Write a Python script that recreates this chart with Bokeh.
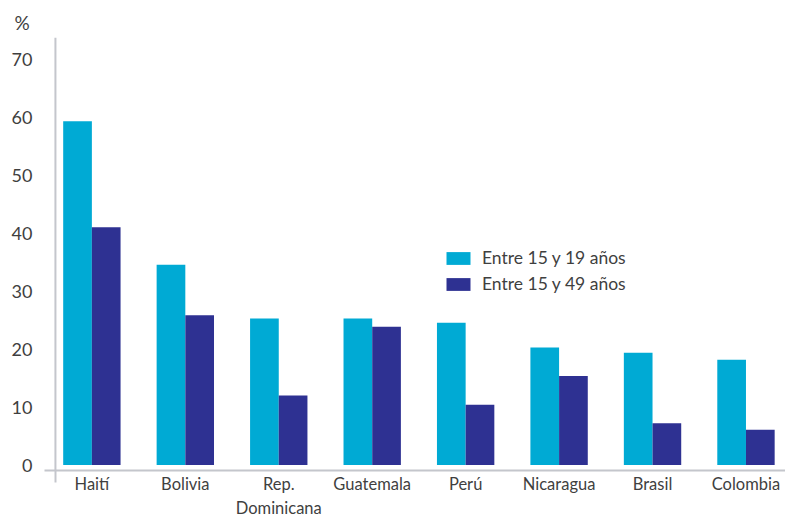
import numpy as np
from bokeh.plotting import figure
from bokeh.models import ColumnDataSource, FixedTicker, Span, Range1d, Legend, LegendItem
from bokeh.embed import file_html
from bokeh.resources import INLINE

# ---- data ----
countries = ["Haití", "Bolivia", "Rep.\nDominicana", "Guatemala", "Perú",
             "Nicaragua", "Brasil", "Colombia"]
age_15_19 = [59.4, 34.6, 25.3, 25.3, 24.6, 20.3, 19.4, 18.2]
age_15_49 = [41.1, 25.9, 12.0, 23.9, 10.4, 15.4, 7.2, 6.1]
series_labels = ["Entre 15 y 19 años", "Entre 15 y 49 años"]
y_ticks = [0, 10, 20, 30, 40, 50, 60, 70]
y_unit = "%"

# ---- style ----
TEAL = "#00AAD4"
NAVY = "#2E3192"
TEXT = "#3F3F3F"
AXIS = "#C4C6CC"
FONT = "Lato"

idx = np.arange(len(countries))
bar_w = 0.307
src = ColumnDataSource(dict(x1=idx - bar_w / 2, x2=idx + bar_w / 2,
                            a=age_15_19, b=age_15_49))

p = figure(width=785, height=520, output_backend="svg", toolbar_location=None,
           x_range=Range1d(-0.507, 7.423), y_range=Range1d(-0.95, 73.88),
           min_border_left=44, min_border_right=0, min_border_top=37,
           min_border_bottom=49, title=y_unit)
p.outline_line_color = None
p.xgrid.visible = False
p.ygrid.visible = False

p.title.align = "left"
p.title.offset = -30
p.title.text_font = FONT
p.title.text_font_size = "19px"
p.title.text_font_style = "normal"
p.title.text_color = TEXT
p.title.standoff = 7

r1 = p.vbar(x="x1", top="a", width=bar_w, bottom=0, source=src,
            fill_color=TEAL, line_color=None)
r2 = p.vbar(x="x2", top="b", width=bar_w, bottom=0, source=src,
            fill_color=NAVY, line_color=None)

# y axis
p.yaxis.ticker = FixedTicker(ticks=y_ticks)
p.yaxis.axis_line_color = None
p.yaxis.major_tick_line_color = None
p.yaxis.minor_tick_line_color = None
p.yaxis.major_tick_out = 0
p.yaxis.major_tick_in = 0
p.yaxis.major_label_standoff = 12
p.yaxis.major_label_text_font = FONT
p.yaxis.major_label_text_font_size = "18px"
p.yaxis.major_label_text_color = TEXT

# x axis
vline_x = -0.39
p.xaxis.ticker = FixedTicker(ticks=list(idx), minor_ticks=[vline_x])
p.xaxis.major_label_overrides = {int(i): c for i, c in zip(idx, countries)}
p.xaxis.axis_line_color = AXIS
p.xaxis.axis_line_width = 2
p.xaxis.major_tick_line_color = None
p.xaxis.major_tick_out = 0
p.xaxis.major_tick_in = 0
p.xaxis.minor_tick_line_color = AXIS
p.xaxis.minor_tick_line_width = 2
p.xaxis.minor_tick_out = 12
p.xaxis.minor_tick_in = 0
p.xaxis.major_label_standoff = -9
p.xaxis.major_label_text_font = FONT
p.xaxis.major_label_text_font_size = "16.5px"
p.xaxis.major_label_text_color = TEXT

p.add_layout(Span(location=vline_x, dimension="height", line_color=AXIS, line_width=2))

legend = Legend(items=[LegendItem(label=series_labels[0], renderers=[r1]),
                       LegendItem(label=series_labels[1], renderers=[r2])],
                location=(399, 176), padding=0, margin=0, spacing=5,
                glyph_width=30, glyph_height=16, label_height=16,
                label_standoff=9, border_line_color=None,
                background_fill_alpha=0,
                label_text_font=FONT, label_text_font_size="17.5px",
                label_text_color=TEXT)
p.add_layout(legend)

open("out.html", "w").write(file_html(p, INLINE))
